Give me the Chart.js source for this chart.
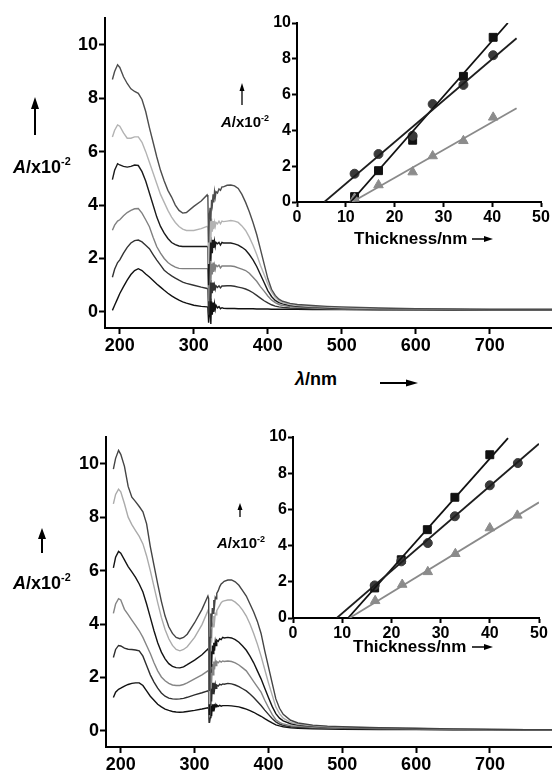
<!DOCTYPE html>
<html lang="en">
<head>
<meta charset="UTF-8">
<title>Absorbance spectra and thickness fits</title>
<script src="https://cdn.jsdelivr.net/npm/chart.js@4.4.1/dist/chart.umd.min.js"></script>
<style>
  body { margin: 0; background: #fff; }
  #page { position: relative; width: 552px; height: 774px; overflow: hidden; }
  canvas { position: absolute; }
  .lbl { position: absolute; font-family: "Liberation Sans", Arial, sans-serif; font-weight: bold;
         color: #000; white-space: nowrap; line-height: 1; }
  .lbl i { font-style: italic; }
  .lbl .sup { font-size: 0.6em; position: relative; top: -0.7em; }
  #arrows { position: absolute; left: 0; top: 0; }
</style>
</head>
<body>
<div id="page">
  <canvas id="topMain" width="552" height="360" style="left:0;top:0"></canvas>
  <canvas id="botMain" width="551" height="355" style="left:1px;top:419px"></canvas>
  <canvas id="topInset" width="312" height="235" style="left:240px;top:0"></canvas>
  <canvas id="botInset" width="312" height="237" style="left:240px;top:414px"></canvas>

  <div class="lbl" style="left:13px;top:158px;font-size:18px"><i>A</i>/x10<span class="sup">-2</span></div>
  <div class="lbl" style="left:13px;top:574px;font-size:18px"><i>A</i>/x10<span class="sup">-2</span></div>
  <div class="lbl" style="left:295px;top:370px;font-size:18px"><i>λ</i>/nm</div>
  <div class="lbl" style="left:221px;top:114px;font-size:15px"><i>A</i>/x10<span class="sup">-2</span></div>
  <div class="lbl" style="left:217px;top:535px;font-size:15px"><i>A</i>/x10<span class="sup">-2</span></div>
  <div class="lbl" style="left:354px;top:230px;font-size:17px">Thickness/nm</div>
  <div class="lbl" style="left:353px;top:638px;font-size:17px">Thickness/nm</div>
  <svg id="arrows" width="552" height="774"></svg>
</div>
<script>
// wavelength grid (nm), shared by all spectra
const wavelength = [190, 193, 197, 200, 205, 210, 215, 220, 225, 230, 235, 240, 245, 250, 255, 260, 265, 270, 275, 280,
  285, 290, 300, 310, 318,
  319, 320, 321, 322, 323, 324, 325, 326, 327, 328, 329, 330, 332, 334, 336, 338, 340,
  345, 350, 355, 360, 365, 370, 375, 380, 385, 390, 395, 400, 405, 410, 415, 420, 430, 440, 460, 480,
  500, 550, 600, 650, 700, 750, 784];

// upper panel spectra (A x10^-2)
const topS1 = [8.7, 9.0, 9.25, 9.15, 8.8, 8.55, 8.35, 8.25, 8.18, 7.95, 7.5, 6.9, 6.35, 5.8, 5.3, 4.9, 4.55, 4.3, 4.0, 3.8, 3.7, 3.72, 3.95, 4.15, 4.38,
  4.3, 2.6, 3.6, 3.9, 3.4, 4.2, 4.0, 4.4, 4.1, 4.5, 4.3, 4.5, 4.45, 4.6, 4.55, 4.68, 4.68,
  4.74, 4.75, 4.72, 4.62, 4.4, 4.1, 3.75, 3.35, 2.9, 2.35, 1.8, 1.25, 0.85, 0.62, 0.48, 0.4, 0.32, 0.28, 0.24, 0.21, 0.19, 0.15, 0.12, 0.11, 0.1, 0.1, 0.1];
const topS2 = [6.55, 6.8, 7.0, 6.95, 6.7, 6.5, 6.5, 6.55, 6.55, 6.35, 6.0, 5.6, 5.2, 4.8, 4.4, 4.1, 3.8, 3.55, 3.35, 3.2, 3.1, 3.05, 3.05, 3.12, 3.2,
  3.15, 1.8, 2.9, 3.4, 2.6, 3.5, 3.0, 3.4, 3.1, 3.35, 3.2, 3.35, 3.3, 3.4, 3.3, 3.4, 3.38,
  3.4, 3.42, 3.4, 3.35, 3.22, 3.05, 2.8, 2.5, 2.15, 1.75, 1.4, 1.05, 0.75, 0.55, 0.42, 0.35, 0.28, 0.24, 0.2, 0.18, 0.16, 0.13, 0.11, 0.1, 0.09, 0.09, 0.09];
const topS3 = [4.95, 5.3, 5.55, 5.5, 5.45, 5.42, 5.45, 5.5, 5.48, 5.25, 4.9, 4.45, 4.0, 3.55, 3.2, 2.95, 2.75, 2.6, 2.52, 2.47, 2.45, 2.45, 2.45, 2.45, 2.45,
  2.4, 1.0, 2.0, 2.8, 1.9, 2.7, 2.2, 2.7, 2.4, 2.65, 2.45, 2.6, 2.55, 2.6, 2.5, 2.6, 2.58,
  2.58, 2.58, 2.55, 2.5, 2.42, 2.32, 2.15, 1.95, 1.7, 1.4, 1.1, 0.8, 0.58, 0.43, 0.35, 0.3, 0.24, 0.21, 0.18, 0.16, 0.14, 0.12, 0.1, 0.09, 0.08, 0.08, 0.08];
const topS4 = [3.06, 3.25, 3.4, 3.45, 3.6, 3.72, 3.8, 3.86, 3.87, 3.7, 3.45, 3.19, 2.8, 2.44, 2.2, 2.0, 1.85, 1.75, 1.68, 1.63, 1.62, 1.62, 1.62, 1.62, 1.62,
  1.6, 0.4, 1.2, 1.9, 1.1, 1.8, 1.4, 1.85, 1.5, 1.75, 1.6, 1.75, 1.7, 1.75, 1.65, 1.72, 1.72,
  1.72, 1.72, 1.7, 1.65, 1.6, 1.55, 1.45, 1.3, 1.15, 0.95, 0.78, 0.6, 0.45, 0.35, 0.28, 0.24, 0.2, 0.18, 0.15, 0.13, 0.12, 0.1, 0.09, 0.08, 0.07, 0.07, 0.07];
const topS5 = [1.3, 1.6, 1.85, 1.95, 2.2, 2.42, 2.58, 2.67, 2.69, 2.62, 2.5, 2.37, 2.15, 1.94, 1.75, 1.56, 1.45, 1.35, 1.27, 1.19, 1.12, 1.07, 1.0, 0.93, 0.88,
  0.85, -0.1, 0.5, 1.2, 0.4, 1.1, 0.7, 1.1, 0.8, 1.0, 0.85, 0.98, 0.92, 0.98, 0.9, 0.97, 0.97,
  0.98, 0.98, 0.96, 0.93, 0.9, 0.86, 0.8, 0.72, 0.62, 0.52, 0.42, 0.34, 0.27, 0.22, 0.19, 0.17, 0.15, 0.14, 0.12, 0.11, 0.1, 0.09, 0.08, 0.07, 0.07, 0.06, 0.06];
const topS6 = [0.06, 0.25, 0.5, 0.69, 0.95, 1.19, 1.4, 1.55, 1.62, 1.55, 1.42, 1.31, 1.18, 1.05, 0.93, 0.81, 0.7, 0.6, 0.52, 0.44, 0.38, 0.33, 0.25, 0.21, 0.19,
  0.18, -0.4, -0.1, 0.5, -0.45, 0.4, -0.1, 0.35, 0.0, 0.3, 0.1, 0.25, 0.15, 0.2, 0.12, 0.16, 0.14,
  0.13, 0.13, 0.13, 0.12, 0.12, 0.12, 0.12, 0.12, 0.11, 0.11, 0.11, 0.11, 0.1, 0.1, 0.1, 0.1, 0.1, 0.1, 0.09, 0.09, 0.09, 0.08, 0.08, 0.08, 0.08, 0.08, 0.08];

// lower panel spectra (A x10^-2)
const botS1 = [9.8, 10.2, 10.5, 10.35, 9.9, 9.15, 8.75, 8.58, 8.4, 8.2, 7.75, 6.9, 6.2, 5.5, 4.85, 4.3, 3.9, 3.65, 3.5, 3.45, 3.5, 3.62, 4.05, 4.55, 5.05,
  4.95, 1.5, 3.5, 4.4, 3.9, 4.6, 4.4, 4.9, 4.7, 5.0, 4.95, 5.15, 5.25, 5.4, 5.5, 5.55, 5.6,
  5.65, 5.65, 5.58, 5.45, 5.25, 5.05, 4.75, 4.45, 4.1, 3.65, 3.0, 2.4, 1.8, 1.2, 0.85, 0.62, 0.4, 0.3, 0.22, 0.18, 0.16, 0.12, 0.1, 0.08, 0.06, 0.05, 0.05];
const botS2 = [8.5, 8.85, 9.05, 8.95, 8.5, 8.0, 7.72, 7.5, 7.28, 7.0, 6.55, 6.0, 5.4, 4.8, 4.25, 3.8, 3.45, 3.2, 3.05, 3.0, 3.05, 3.15, 3.5, 3.98, 4.5,
  4.4, 1.0, 3.0, 3.8, 3.3, 4.0, 3.9, 4.3, 4.1, 4.4, 4.35, 4.5, 4.6, 4.7, 4.8, 4.85, 4.87,
  4.9, 4.9, 4.82, 4.7, 4.52, 4.3, 4.0, 3.65, 3.25, 2.8, 2.3, 1.8, 1.35, 0.9, 0.65, 0.48, 0.32, 0.25, 0.19, 0.16, 0.14, 0.11, 0.09, 0.07, 0.06, 0.05, 0.05];
const botS3 = [6.1, 6.5, 6.72, 6.65, 6.4, 6.15, 5.95, 5.75, 5.5, 5.2, 4.75, 4.25, 3.75, 3.3, 2.95, 2.7, 2.52, 2.42, 2.37, 2.36, 2.4, 2.48, 2.65, 2.85, 3.07,
  3.0, 0.6, 2.2, 3.0, 2.4, 3.2, 2.9, 3.3, 3.0, 3.35, 3.2, 3.4, 3.35, 3.45, 3.42, 3.5, 3.48,
  3.5, 3.48, 3.42, 3.32, 3.18, 3.02, 2.8, 2.55, 2.25, 1.95, 1.6, 1.25, 0.92, 0.65, 0.48, 0.38, 0.27, 0.22, 0.17, 0.15, 0.13, 0.1, 0.08, 0.07, 0.06, 0.05, 0.05];
const botS4 = [4.4, 4.75, 4.95, 4.9, 4.55, 4.35, 4.15, 3.95, 3.75, 3.5, 3.2, 2.9, 2.55, 2.25, 2.02, 1.88, 1.78, 1.72, 1.7, 1.7, 1.74, 1.8, 1.95, 2.1, 2.25,
  2.2, 0.5, 1.6, 2.3, 1.8, 2.5, 2.1, 2.6, 2.3, 2.6, 2.45, 2.6, 2.55, 2.62, 2.58, 2.62, 2.6,
  2.62, 2.6, 2.55, 2.47, 2.36, 2.25, 2.05, 1.85, 1.65, 1.45, 1.15, 0.88, 0.62, 0.42, 0.32, 0.26, 0.2, 0.17, 0.14, 0.12, 0.11, 0.09, 0.07, 0.06, 0.05, 0.05, 0.05];
const botS5 = [2.75, 3.05, 3.2, 3.18, 3.1, 3.06, 3.05, 3.03, 3.0, 2.8, 2.45, 2.1, 1.83, 1.6, 1.42, 1.3, 1.23, 1.2, 1.19, 1.2, 1.22, 1.26, 1.35, 1.43, 1.5,
  1.45, 0.3, 1.0, 1.6, 1.1, 1.8, 1.4, 1.8, 1.55, 1.75, 1.6, 1.72, 1.68, 1.75, 1.72, 1.76, 1.75,
  1.78, 1.76, 1.72, 1.66, 1.58, 1.5, 1.38, 1.25, 1.1, 0.95, 0.78, 0.62, 0.47, 0.34, 0.26, 0.21, 0.16, 0.14, 0.11, 0.1, 0.09, 0.07, 0.06, 0.05, 0.05, 0.04, 0.04];
const botS6 = [1.25, 1.45, 1.56, 1.6, 1.68, 1.74, 1.78, 1.8, 1.8, 1.7, 1.5, 1.3, 1.15, 1.0, 0.9, 0.82, 0.77, 0.73, 0.71, 0.7, 0.71, 0.73, 0.77, 0.82, 0.87,
  0.85, 0.3, 0.5, 0.95, 0.55, 1.0, 0.75, 1.0, 0.85, 0.98, 0.9, 0.97, 0.92, 0.96, 0.93, 0.95, 0.95,
  0.95, 0.94, 0.92, 0.9, 0.86, 0.82, 0.76, 0.7, 0.62, 0.55, 0.46, 0.38, 0.3, 0.23, 0.19, 0.16, 0.12, 0.1, 0.08, 0.07, 0.06, 0.05, 0.05, 0.04, 0.04, 0.04, 0.04];

const spectraXTicks = [200, 300, 400, 500, 600, 700];
const spectraYTicks = [0, 2, 4, 6, 8, 10];
const insetXTicks = [0, 10, 20, 30, 40, 50];
const insetYTicks = [0, 2, 4, 6, 8, 10];

// upper inset: absorbance vs thickness
const topSquareX = [11.8, 16.7, 23.7, 34.1, 40.2];
const topSquareY = [0.3, 1.75, 3.45, 7.02, 9.2];
const topCircleX = [11.8, 16.7, 23.7, 27.8, 34.1, 40.2];
const topCircleY = [1.58, 2.68, 3.7, 5.47, 6.54, 8.2];
const topTriangleX = [11.8, 16.7, 23.7, 27.8, 34.1, 40.2];
const topTriangleY = [0.2, 0.95, 1.67, 2.57, 3.42, 4.73];
const topSquareFitX = [11.0, 43.2], topSquareFitY = [0, 10];
const topCircleFitX = [5.6, 45.0], topCircleFitY = [0, 9.15];
const topTriangleFitX = [11.3, 45.0], topTriangleFitY = [0, 5.24];

// lower inset
const botSquareX = [16.6, 22.0, 27.3, 32.9, 40.0];
const botSquareY = [1.66, 3.22, 4.88, 6.67, 9.02];
const botCircleX = [16.6, 22.0, 27.4, 32.9, 40.0, 45.7];
const botCircleY = [1.8, 3.13, 4.14, 5.62, 7.33, 8.56];
const botTriangleX = [16.7, 22.2, 27.4, 33.0, 40.0, 45.6];
const botTriangleY = [0.95, 1.85, 2.55, 3.55, 4.97, 5.67];
const botSquareFitX = [11.2, 43.7], botSquareFitY = [0, 9.94];
const botCircleFitX = [8.9, 50.0], botCircleFitY = [0, 9.63];
const botTriangleFitX = [11.5, 50.0], botTriangleFitY = [0, 6.39];

const topColors = ['#4d4d4d', '#b3b3b3', '#1a1a1a', '#808080', '#333333', '#111111'];
const botColors = ['#444444', '#ababab', '#141414', '#858585', '#2e2e2e', '#111111'];

const FONT = "'Liberation Sans', Arial, sans-serif";
const pts = (xs, ys) => xs.map((x, i) => ({ x: x, y: ys[i] }));

function axis(min, max, ticks, size, fit, tickLen, bw) {
  return {
    type: 'linear', min: min, max: max,
    afterBuildTicks: s => { s.ticks = ticks.map(v => ({ value: v })); },
    afterFit: s => { s[fit[0]] = fit[1]; },
    ticks: { font: { family: FONT, size: size, weight: 'bold' }, color: '#000', padding: 1, autoSkip: false, maxRotation: 0 },
    grid: { drawOnChartArea: false, drawTicks: true, tickLength: tickLen, tickWidth: bw, tickColor: '#000' },
    border: { display: true, color: '#000', width: bw }
  };
}

function spectra(id, series, colors, pad) {
  new Chart(document.getElementById(id), {
    type: 'line',
    data: {
      datasets: series.map((s, i) => ({
        data: pts(wavelength, s), borderColor: colors[i], borderWidth: 1.4,
        pointRadius: 0, tension: 0, fill: false
      }))
    },
    options: {
      responsive: false, animation: false, devicePixelRatio: 1,
      layout: { padding: { top: pad.top, left: 0, right: 0, bottom: 0 } },
      plugins: { legend: { display: false }, tooltip: { enabled: false } },
      scales: {
        x: axis(180, 784, spectraXTicks, 18, ['height', pad.xh], 6, 2),
        y: axis(-0.6, 11, spectraYTicks, 18, ['width', 105], 6, 2)
      }
    }
  });
}

function inset(id, d, pad) {
  const fit = (xs, ys, c) => ({ type: 'line', data: pts(xs, ys), borderColor: c, borderWidth: 1.8, pointRadius: 0 });
  const mark = (xs, ys, c, style, r) => ({ type: 'scatter', data: pts(xs, ys), backgroundColor: c, borderColor: c,
    pointStyle: style, pointRadius: r, pointBorderWidth: 1 });
  new Chart(document.getElementById(id), {
    type: 'scatter',
    data: {
      datasets: [
        fit(d.trFitX, d.trFitY, '#8a8a8a'),
        fit(d.ciFitX, d.ciFitY, '#1e1e1e'),
        fit(d.sqFitX, d.sqFitY, '#111111'),
        mark(d.trX, d.trY, '#8c8c8c', 'triangle', 5.5),
        mark(d.ciX, d.ciY, '#3a3a3a', 'circle', 4.5),
        mark(d.sqX, d.sqY, '#111111', 'rect', 5.6)
      ]
    },
    options: {
      responsive: false, animation: false, devicePixelRatio: 1,
      layout: { padding: { top: 23, left: 0, right: pad.right, bottom: 0 } },
      plugins: { legend: { display: false }, tooltip: { enabled: false } },
      scales: {
        x: axis(0, 50, insetXTicks, 16, ['height', 33], 5, 2),
        y: axis(0, 10, insetYTicks, 16, ['width', pad.yw], 5, 2)
      }
    }
  });
}

spectra('topMain', [topS1, topS2, topS3, topS4, topS5, topS6], topColors, { top: 18, xh: 32 });
spectra('botMain', [botS1, botS2, botS3, botS4, botS5, botS6], botColors, { top: 18, xh: 27 });

inset('topInset', {
  sqX: topSquareX, sqY: topSquareY, ciX: topCircleX, ciY: topCircleY, trX: topTriangleX, trY: topTriangleY,
  sqFitX: topSquareFitX, sqFitY: topSquareFitY, ciFitX: topCircleFitX, ciFitY: topCircleFitY,
  trFitX: topTriangleFitX, trFitY: topTriangleFitY
}, { right: 11, yw: 57 });
inset('botInset', {
  sqX: botSquareX, sqY: botSquareY, ciX: botCircleX, ciY: botCircleY, trX: botTriangleX, trY: botTriangleY,
  sqFitX: botSquareFitX, sqFitY: botSquareFitY, ciFitX: botCircleFitX, ciFitY: botCircleFitY,
  trFitX: botTriangleFitX, trFitY: botTriangleFitY
}, { right: 13, yw: 53 });

// decorative arrows next to the axis titles
const svg = document.getElementById('arrows');
function upArrow(x, tip, tail, sw, h, w) {
  svg.innerHTML += `<line x1="${x}" y1="${tail}" x2="${x}" y2="${tip + h - 1}" stroke="#000" stroke-width="${sw}"/>` +
    `<polygon points="${x},${tip} ${x - w},${tip + h} ${x + w},${tip + h}" fill="#000"/>`;
}
function rightArrow(y, tail, tip, sw, h, w) {
  svg.innerHTML += `<line x1="${tail}" y1="${y}" x2="${tip - h + 1}" y2="${y}" stroke="#000" stroke-width="${sw}"/>` +
    `<polygon points="${tip},${y} ${tip - h},${y - w} ${tip - h},${y + w}" fill="#000"/>`;
}
upArrow(35, 97, 135, 2, 12, 4);
upArrow(42, 528, 553, 2, 11, 4);
upArrow(242, 83, 105, 1.3, 8, 2.5);
upArrow(240, 503, 517, 1.3, 7, 2.5);
rightArrow(383, 380, 418, 2, 12, 3.5);
rightArrow(239, 472, 493, 1.5, 9, 3);
rightArrow(647, 472, 493, 1.5, 9, 3);
</script>
</body>
</html>
